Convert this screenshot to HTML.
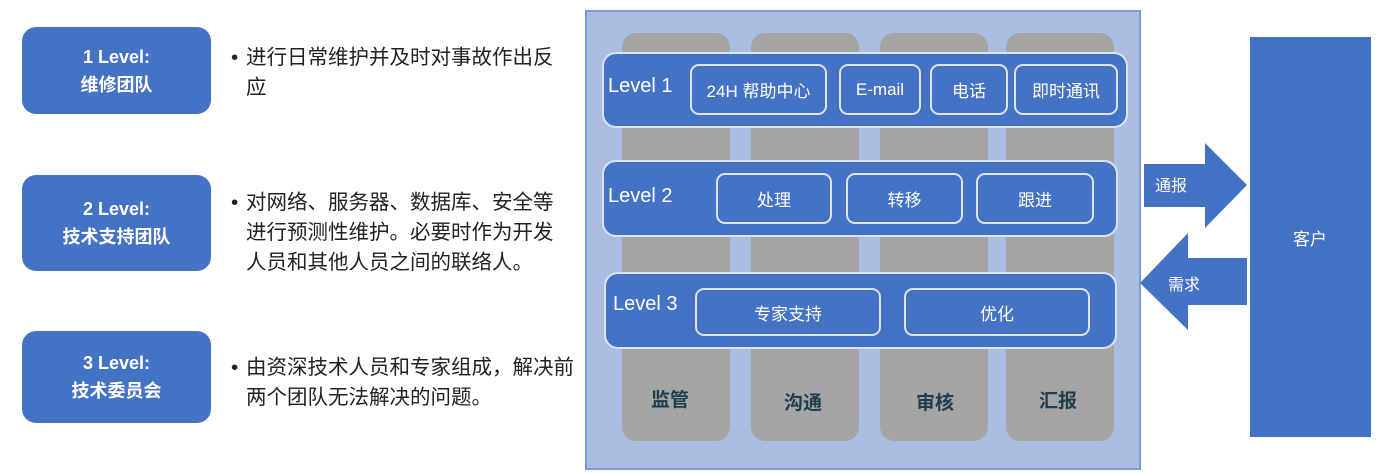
<!DOCTYPE html>
<html><head><meta charset="utf-8"><style>
*{margin:0;padding:0;box-sizing:border-box}
body{width:1384px;height:474px;background:#fff;position:relative;overflow:hidden;font-family:"Liberation Sans","Noto Sans CJK SC",sans-serif}
.a{position:absolute}
.lb{background:#4472c4;border-radius:14px;color:#fff;font-weight:bold;font-size:18px;text-align:center;line-height:28px;display:flex;flex-direction:column;justify-content:center}
.tx{font-size:20.5px;color:#222;line-height:30px;width:320px}
.tx b{position:absolute;left:-15px;font-weight:normal}
.col{background:#a5a5a5;border-radius:14px}
.bar{background:#4472c4;border:2px solid #dce4f4;border-radius:14px;color:#fff}
.bx{border:2px solid #dce4f4;border-radius:9px;color:#fff;font-size:17px;display:flex;align-items:center;justify-content:center}
.lv{color:#fff;font-size:20px}
.cl{font-size:19px;font-weight:bold;color:#1f3d4d;text-align:center}
</style></head><body>
<div class="a lb" style="left:22px;top:27px;width:189px;height:87px">1 Level:<br>维修团队</div>
<div class="a lb" style="left:22px;top:175px;width:189px;height:96px">2 Level:<br>技术支持团队</div>
<div class="a lb" style="left:22px;top:331px;width:189px;height:92px">3 Level:<br>技术委员会</div>
<div class="a tx" style="left:246px;top:43px"><b>•</b>进行日常维护并及时对事故作出反应</div>
<div class="a tx" style="left:246px;top:188px"><b>•</b>对网络、服务器、数据库、安全等进行预测性维护。必要时作为开发人员和其他人员之间的联络人。</div>
<div class="a tx" style="left:246px;top:353px;width:340px"><b>•</b>由资深技术人员和专家组成，解决前两个团队无法解决的问题。</div>

<div class="a" style="left:585px;top:10px;width:556px;height:460px;background:#a9bde3;border:2px solid #7b9ad6"></div>
<div class="a col" style="left:622px;top:33px;width:108px;height:408px"></div>
<div class="a col" style="left:751px;top:33px;width:108px;height:408px"></div>
<div class="a col" style="left:880px;top:33px;width:108px;height:408px"></div>
<div class="a col" style="left:1006px;top:33px;width:108px;height:408px"></div>
<div class="a cl" style="left:622px;top:385px;width:96px">监管</div>
<div class="a cl" style="left:751px;top:388px;width:104px">沟通</div>
<div class="a cl" style="left:880px;top:388px;width:110px">审核</div>
<div class="a cl" style="left:1006px;top:386px;width:104px">汇报</div>

<div class="a bar" style="left:602px;top:52px;width:526px;height:76px"></div>
<div class="a lv" style="left:608px;top:75px">Level 1</div>
<div class="a bx" style="left:690px;top:64px;width:137px;height:51px">24H 帮助中心</div>
<div class="a bx" style="left:839px;top:64px;width:82px;height:51px">E-mail</div>
<div class="a bx" style="left:930px;top:64px;width:78px;height:51px">电话</div>
<div class="a bx" style="left:1014px;top:64px;width:104px;height:51px">即时通讯</div>

<div class="a bar" style="left:602px;top:160px;width:516px;height:77px"></div>
<div class="a lv" style="left:608px;top:185px">Level 2</div>
<div class="a bx" style="left:716px;top:173px;width:116px;height:51px">处理</div>
<div class="a bx" style="left:846px;top:173px;width:117px;height:51px">转移</div>
<div class="a bx" style="left:976px;top:173px;width:118px;height:51px">跟进</div>

<div class="a bar" style="left:604px;top:272px;width:513px;height:77px"></div>
<div class="a lv" style="left:613px;top:293px">Level 3</div>
<div class="a bx" style="left:695px;top:288px;width:186px;height:48px">专家支持</div>
<div class="a bx" style="left:904px;top:288px;width:186px;height:48px">优化</div>

<svg class="a" style="left:0;top:0" width="1384" height="474">
<polygon points="1144,164 1205,164 1205,143 1247,185 1205,228 1205,207 1144,207" fill="#4472c4"/>
<polygon points="1247,258 1188,258 1188,233 1140,283 1188,330 1188,305 1247,305" fill="#4472c4"/>
<rect x="1250" y="37" width="121" height="400" fill="#4472c4"/>
<text x="1155" y="191" fill="#fff" font-size="16" font-family="Liberation Sans,Noto Sans CJK SC,sans-serif">通报</text>
<text x="1168" y="290" fill="#fff" font-size="16" font-family="Liberation Sans,Noto Sans CJK SC,sans-serif">需求</text>
<text x="1310" y="245" fill="#fff" font-size="17" text-anchor="middle" font-family="Liberation Sans,Noto Sans CJK SC,sans-serif">客户</text>
</svg>
</body></html>
